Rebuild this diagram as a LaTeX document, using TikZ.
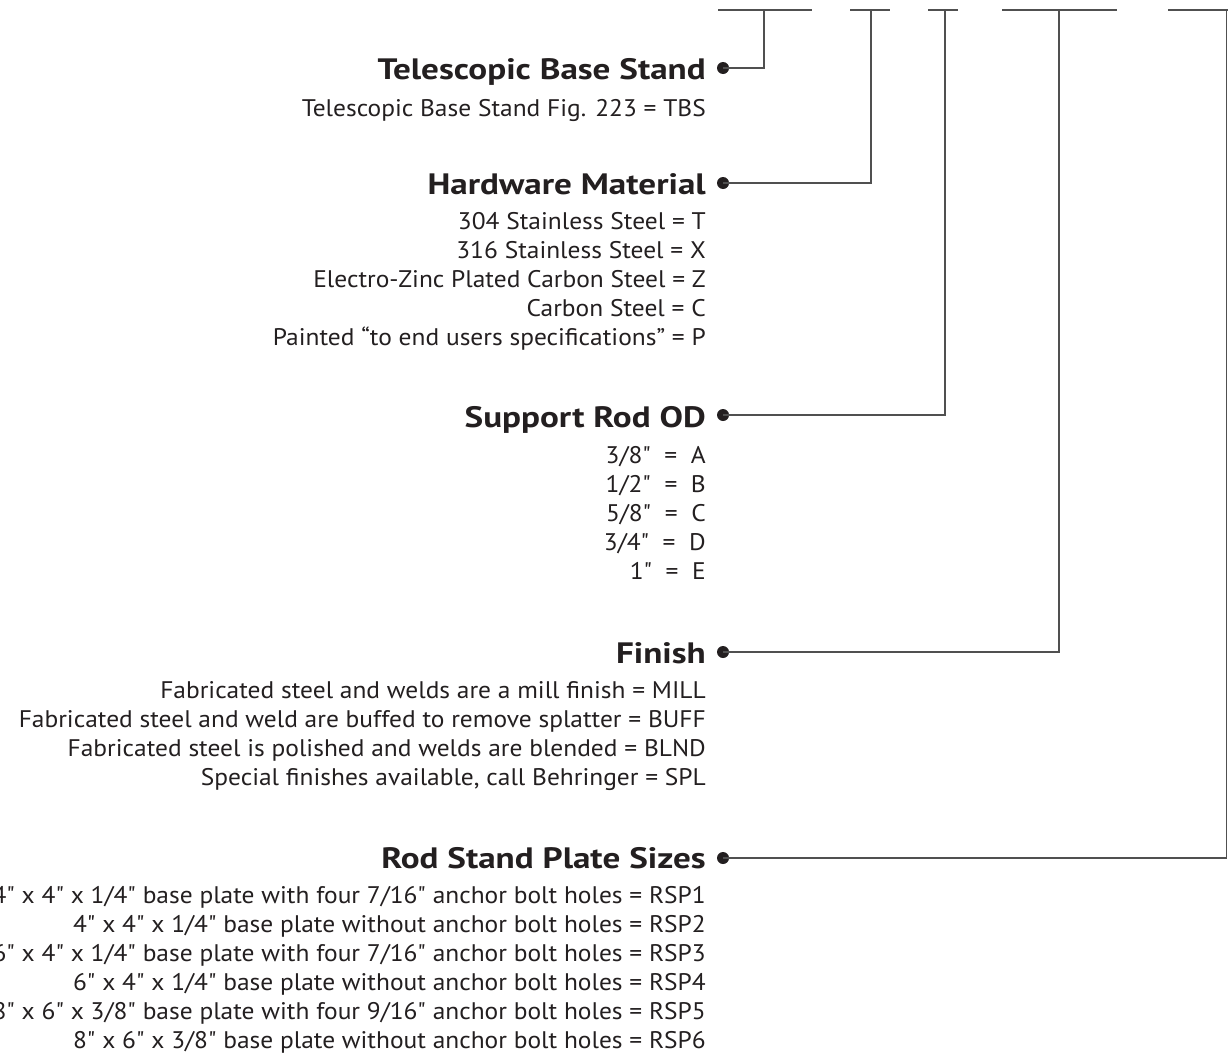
\documentclass[tikz,border=0pt]{standalone}
\usepackage{fontspec}
\setmainfont{PT Sans}[Ligatures=TeXOff]
\newfontfamily\bodyfont{PT Sans}[Ligatures=TeXOff,FakeStretch=1.06]
\newfontfamily\headfont{PT Sans Bold}[Ligatures=TeXOff,FakeStretch=1.19]
\definecolor{ink}{HTML}{231F20}
\definecolor{wire}{HTML}{505050}
\begin{document}
\begin{tikzpicture}[x=1pt,y=-1pt,
  head/.style={anchor=base east,inner sep=0pt,text=ink,font=\headfont\fontsize{29.5}{36}\selectfont},
  body/.style={anchor=base east,inner sep=0pt,text=ink,font=\bodyfont\fontsize{24}{29}\selectfont},
  dot/.style={circle,fill=ink,inner sep=0pt,minimum size=12pt},
  wireline/.style={draw=wire,line width=1.4pt}]
\useasboundingbox[fill=white] (0,0) rectangle (1228,1055);
% top code bars
\coordinate (b1l) at (718,10); \coordinate (b1r) at (812,10);
\coordinate (b2l) at (850,10); \coordinate (b2r) at (890,10);
\coordinate (b3l) at (928,10); \coordinate (b3r) at (958,10);
\coordinate (b4l) at (1002,10); \coordinate (b4r) at (1117,10);
\coordinate (b5l) at (1168,10); \coordinate (b5r) at (1230,10);
\foreach \k in {1,...,5} \draw[wireline] (b\k l) -- (b\k r);
\coordinate (t1) at (764,10); \coordinate (t2) at (871,10);
\coordinate (t3) at (945,10); \coordinate (t4) at (1059,10);
\coordinate (t5) at (1226.5,10);
% headings
\node[head] (h1) at (706,79) {Telescopic Base Stand};
\node[head] (h2) at (706,194) {Hardware Material};
\node[head] (h3) at (706,427) {Support Rod OD};
\node[head] (h4) at (706,663) {Finish};
\node[head] (h5) at (706,868) {Rod Stand Plate Sizes};
% bullets
\node[dot] (d1) at (723,68) {};
\node[dot] (d2) at (723,183) {};
\node[dot] (d3) at (723,415) {};
\node[dot] (d4) at (723,652) {};
\node[dot] (d5) at (723,858) {};
% connectors
\draw[wireline] (d1.center) -- (d1.center -| t1) -- (t1);
\draw[wireline] (d2.center) -- (d2.center -| t2) -- (t2);
\draw[wireline] (d3.center) -- (d3.center -| t3) -- (t3);
\draw[wireline] (d4.center) -- (d4.center -| t4) -- (t4);
\draw[wireline] (d5.center) -- (d5.center -| t5) -- (t5);
% body texts
\node[body] (a1) at (706,116) {Telescopic Base Stand Fig. 223 = TBS};
\node[body] (m1) at (706,229) {304 Stainless Steel = T};
\node[body] (m2) at (706,258) {316 Stainless Steel = X};
\node[body] (m3) at (706,287) {Electro-Zinc Plated Carbon Steel = Z};
\node[body] (m4) at (706,316) {Carbon Steel = C};
\node[body] (m5) at (706,345) {Painted “to end users specifications” = P};
\node[body] (r1) at (706,463) {3/8"~~=~~A};
\node[body] (r2) at (706,492) {1/2"~~=~~B};
\node[body] (r3) at (706,521) {5/8"~~=~~C};
\node[body] (r4) at (706,550) {3/4"~~=~~D};
\node[body] (r5) at (706,579) {1"~~=~~E};
\node[body] (f1) at (706,698) {Fabricated steel and welds are a mill finish = MILL};
\node[body] (f2) at (706,727) {Fabricated steel and weld are buffed to remove splatter = BUFF};
\node[body] (f3) at (706,756) {Fabricated steel is polished and welds are blended = BLND};
\node[body] (f4) at (706,785) {Special finishes available, call Behringer = SPL};
\node[body] (p1) at (706,903) {4" x 4" x 1/4" base plate with four 7/16" anchor bolt holes = RSP1};
\node[body] (p2) at (706,932) {4" x 4" x 1/4" base plate without anchor bolt holes = RSP2};
\node[body] (p3) at (706,961) {6" x 4" x 1/4" base plate with four 7/16" anchor bolt holes = RSP3};
\node[body] (p4) at (706,990) {6" x 4" x 1/4" base plate without anchor bolt holes = RSP4};
\node[body] (p5) at (706,1019) {8" x 6" x 3/8" base plate with four 9/16" anchor bolt holes = RSP5};
\node[body] (p6) at (706,1048) {8" x 6" x 3/8" base plate without anchor bolt holes = RSP6};
\end{tikzpicture}
\end{document}
